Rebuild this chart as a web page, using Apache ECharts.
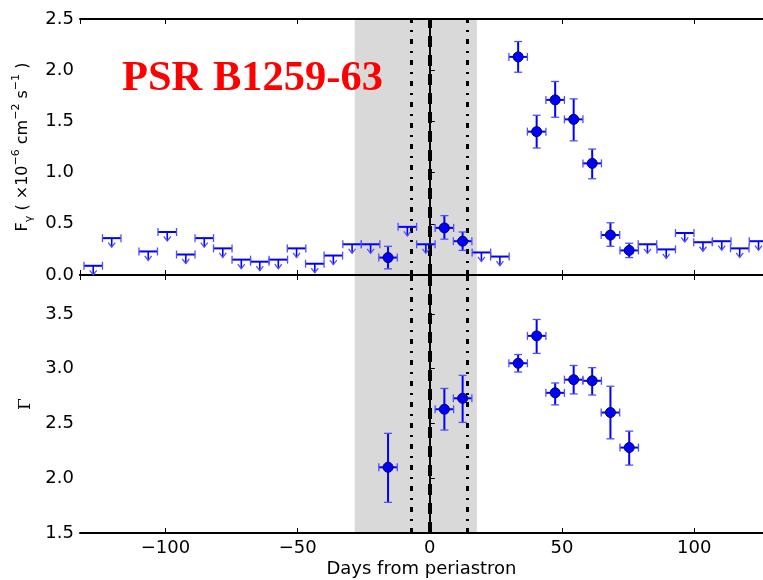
<!DOCTYPE html>
<html>
<head>
<meta charset="utf-8">
<script src="https://cdn.jsdelivr.net/npm/echarts@6/dist/echarts.min.js"></script>
<style>html,body{margin:0;padding:0;background:#fff}#c{width:763px;height:580px}</style>
</head>
<body>
<div id="c"></div>
<script>
// ---- data (days from periastron) ----
const ulDays = [-127.3,-120.3,-106.5,-99.3,-92.3,-85.3,-78.3,-71.3,-64.3,-57.3,-50.4,-43.5,-36.5,-29.4,-22.4,-8.5,-1.5,19.5,26.5,82.3,89.4,96.4,103.3,110.4,117.2,124.3];
const ulFlux = [0.09,0.36,0.23,0.42,0.20,0.36,0.26,0.15,0.13,0.15,0.26,0.11,0.19,0.30,0.30,0.47,0.30,0.22,0.18,0.30,0.25,0.41,0.32,0.33,0.26,0.33];
const detDays = [-15.8,5.5,12.4,33.4,40.4,47.4,54.4,61.4,68.3,75.4];
const detFlux = [0.17,0.46,0.33,2.13,1.40,1.71,1.52,1.09,0.39,0.24];
const detFluxLo = [0.06,0.35,0.24,1.98,1.24,1.54,1.31,0.94,0.28,0.17];
const detFluxHi = [0.28,0.58,0.42,2.28,1.56,1.89,1.72,1.23,0.51,0.31];
const gammaVal = [2.10,2.63,2.73,3.05,3.30,2.78,2.90,2.89,2.60,2.28];
const gammaLo = [1.78,2.44,2.51,2.97,3.14,2.67,2.77,2.76,2.36,2.12];
const gammaHi = [2.41,2.82,2.94,3.13,3.45,2.87,3.03,3.01,2.84,2.43];
const binHalfWidth = 3.5;
const shadeRange = [-28.4, 17.8];
const periastron = 0;
const dashDotDays = [-7, 14];
const xRange = [-132.3, 126];
const fluxRange = [0, 2.5];
const gammaRange = [1.5, 3.856];
const titleText = 'PSR B1259-63';

const BLUE = '#0000ff', CAP = '#5050ff';
const chart = echarts.init(document.getElementById('c'), null, {renderer: 'canvas'});

function errRender(params, api) {
  const x = api.value(0), y = api.value(1), lo = api.value(2), hi = api.value(3);
  const pL = api.coord([x - binHalfWidth, y]), pR = api.coord([x + binHalfWidth, y]);
  const pLo = api.coord([x, lo]), pHi = api.coord([x, hi]);
  const c = 4;
  const ln = (a, b, w, col) => ({type: 'line', shape: {x1: a[0], y1: a[1], x2: b[0], y2: b[1]}, style: {stroke: col, lineWidth: w}});
  return {type: 'group', children: [
    ln(pL, pR, 2, BLUE), ln(pLo, pHi, 2, BLUE),
    ln([pL[0], pL[1]-c], [pL[0], pL[1]+c], 1.3, CAP),
    ln([pR[0], pR[1]-c], [pR[0], pR[1]+c], 1.3, CAP),
    ln([pLo[0]-c, pLo[1]], [pLo[0]+c, pLo[1]], 1.3, CAP),
    ln([pHi[0]-c, pHi[1]], [pHi[0]+c, pHi[1]], 1.3, CAP)
  ]};
}
function ulRender(params, api) {
  const x = api.value(0), y = api.value(1);
  const pL = api.coord([x - binHalfWidth, y]), pR = api.coord([x + binHalfWidth, y]), p = api.coord([x, y]);
  const c = 4;
  const ln = (a, b, w, col) => ({type: 'line', shape: {x1: a[0], y1: a[1], x2: b[0], y2: b[1]}, style: {stroke: col, lineWidth: w}});
  return {type: 'group', children: [
    ln(pL, pR, 2, BLUE),
    ln([pL[0], pL[1]-c], [pL[0], pL[1]+c], 1.3, CAP),
    ln([pR[0], pR[1]-c], [pR[0], pR[1]+c], 1.3, CAP),
    ln(p, [p[0], p[1]+9], 1.6, BLUE),
    {type: 'polyline', shape: {points: [[p[0]-3.5, p[1]+4.5], [p[0], p[1]+9], [p[0]+3.5, p[1]+4.5]]}, style: {stroke: CAP, lineWidth: 1.3, fill: null}}
  ]};
}

const font = 'DejaVu Sans';
function xAx(grid, pos, showLabel) {
  return {
    type: 'value', gridIndex: grid, position: pos, min: xRange[0], max: xRange[1], splitNumber: 5, z: 5,
    axisLine: {show: true, onZero: false, lineStyle: {color: '#000', width: 2}},
    axisTick: {show: true, inside: true, length: 5, lineStyle: {color: '#000', width: 1}},
    splitLine: {show: false},
    axisLabel: {show: showLabel, showMinLabel: false, showMaxLabel: false, margin: 6, fontFamily: font, fontSize: 18, color: '#000',
      formatter: v => (v < 0 ? '\u2212' + Math.abs(v) : String(v))}
  };
}
const markerLines = {
  symbol: 'none', silent: true, label: {show: false},
  data: [
    {xAxis: periastron, lineStyle: {color: '#000', width: 4, type: [11, 8]}},
    {xAxis: dashDotDays[0], lineStyle: {color: '#000', width: 3, type: [5, 7, 2, 7]}},
    {xAxis: dashDotDays[1], lineStyle: {color: '#000', width: 3, type: [5, 7, 2, 7]}}
  ]
};
const shade = {silent: true, itemStyle: {color: '#d9d9d9'}, data: [[{xAxis: shadeRange[0]}, {xAxis: shadeRange[1]}]]};

const option = {
  animation: false,
  backgroundColor: '#fff',
  grid: [
    {left: 80, top: 19, width: 683, height: 256},
    {left: 80, top: 275, width: 683, height: 258}
  ],
  xAxis: [
    xAx(0, 'bottom', false), xAx(0, 'top', false),
    Object.assign(xAx(1, 'bottom', true), {name: 'Days from periastron', nameLocation: 'middle', nameGap: 27,
      nameTextStyle: {fontFamily: font, fontSize: 18, color: '#000'}}),
    xAx(1, 'top', false)
  ],
  yAxis: [
    {type: 'value', gridIndex: 0, min: fluxRange[0], max: fluxRange[1], interval: 0.5, z: 5,
     axisLine: {show: true, lineStyle: {color: '#000', width: 2}},
     axisTick: {show: true, inside: true, length: 5, lineStyle: {color: '#000'}},
     splitLine: {show: false},
     axisLabel: {margin: 6, fontFamily: font, fontSize: 18, color: '#000', formatter: v => v.toFixed(1)},
     name: '{b|F}{s|\u03b3}{b| ( \u00d710}{p|\u22126}{b| cm}{p|\u22122}{b| s}{p|\u22121}{b| )}',
     nameLocation: 'middle', nameGap: 38, nameRotate: 90,
     nameTextStyle: {color: '#000', rich: {
       b: {fontFamily: font, fontSize: 16, color: '#000', verticalAlign: 'middle', lineHeight: 24},
       p: {fontFamily: font, fontSize: 11, color: '#000', verticalAlign: 'top', lineHeight: 24},
       s: {fontFamily: font, fontSize: 11, color: '#000', verticalAlign: 'bottom', lineHeight: 24}
     }}},
    {type: 'value', gridIndex: 1, min: gammaRange[0], max: gammaRange[1], interval: 0.5, z: 5,
     axisLine: {show: true, lineStyle: {color: '#000', width: 2}},
     axisTick: {show: true, inside: true, length: 5, lineStyle: {color: '#000'}},
     splitLine: {show: false},
     axisLabel: {margin: 6, showMaxLabel: false, fontFamily: font, fontSize: 18, color: '#000', formatter: v => v.toFixed(1)},
     name: '\u0393', nameLocation: 'middle', nameGap: 38, nameRotate: 90,
     nameTextStyle: {fontFamily: 'DejaVu Serif', fontSize: 17, color: '#000'}}
  ],
  graphic: [{type: 'text', left: 122, top: 58, z: 20,
    style: {text: titleText, fill: '#ff0000', font: 'bold 42.5px "Liberation Serif", "Times New Roman", serif'}}],
  series: [
    {type: 'line', xAxisIndex: 0, yAxisIndex: 0, data: [], z: 1, markArea: shade},
    {type: 'line', xAxisIndex: 2, yAxisIndex: 1, data: [], z: 1, markArea: shade},
    {type: 'line', xAxisIndex: 0, yAxisIndex: 0, data: [], z: 2, markLine: markerLines},
    {type: 'line', xAxisIndex: 2, yAxisIndex: 1, data: [], z: 2, markLine: markerLines},
    {type: 'custom', xAxisIndex: 0, yAxisIndex: 0, z: 6, renderItem: ulRender,
     data: ulDays.map((d, i) => [d, ulFlux[i]])},
    {type: 'custom', xAxisIndex: 0, yAxisIndex: 0, z: 6, renderItem: errRender,
     data: detDays.map((d, i) => [d, detFlux[i], detFluxLo[i], detFluxHi[i]])},
    {type: 'custom', xAxisIndex: 2, yAxisIndex: 1, z: 6, renderItem: errRender,
     data: detDays.map((d, i) => [d, gammaVal[i], gammaLo[i], gammaHi[i]])},
    {type: 'scatter', xAxisIndex: 0, yAxisIndex: 0, z: 7, symbol: 'circle', symbolSize: 10,
     itemStyle: {color: BLUE, borderColor: '#000060', borderWidth: 1, opacity: 1},
     data: detDays.map((d, i) => [d, detFlux[i]])},
    {type: 'scatter', xAxisIndex: 2, yAxisIndex: 1, z: 7, symbol: 'circle', symbolSize: 10,
     itemStyle: {color: BLUE, borderColor: '#000060', borderWidth: 1, opacity: 1},
     data: detDays.map((d, i) => [d, gammaVal[i]])}
  ]
};
chart.setOption(option);
</script>
</body>
</html>
